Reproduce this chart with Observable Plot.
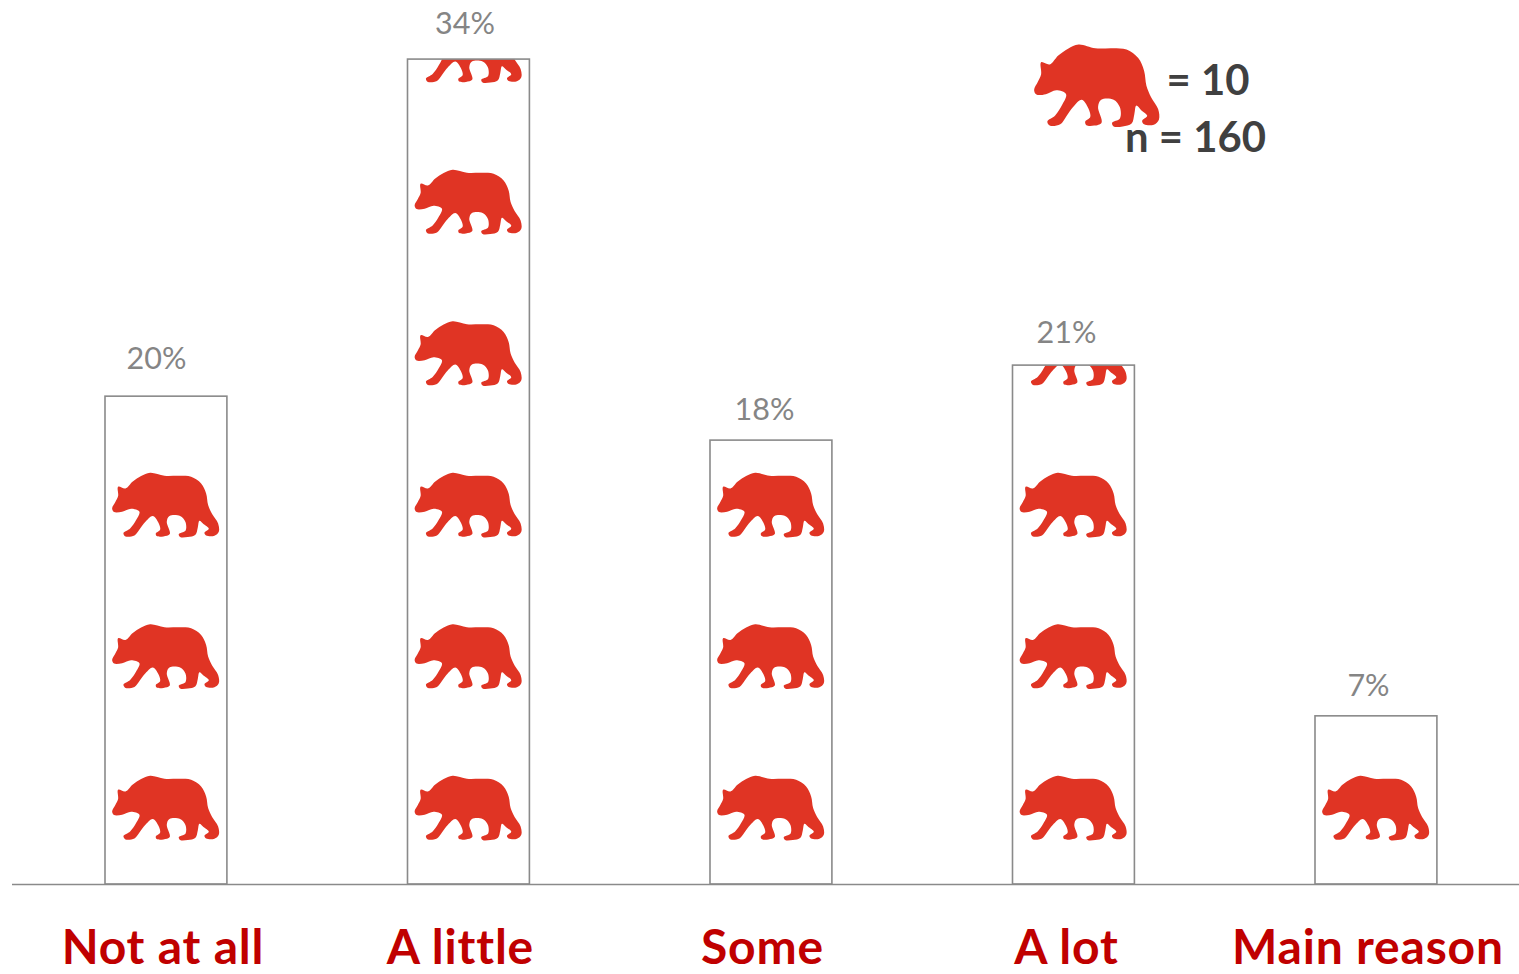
<!DOCTYPE html>
<html>
<head>
<meta charset="utf-8">
<style>html,body{margin:0;padding:0;background:#fff;}svg{display:block;}
g[aria-label="x-axis tick label"] text{letter-spacing:0.8px;}</style>
<script src="https://cdn.jsdelivr.net/npm/d3@7"></script>
<script src="https://cdn.jsdelivr.net/npm/@observablehq/plot@0.6"></script>
</head>
<body>
<div id="chart"></div>
<script>
const categories = ["Not at all", "A little", "Some", "A lot", "Main reason"];
const counts = [32.2, 54.45, 29.3, 34.25, 11.1];
const percents = ["20%", "34%", "18%", "21%", "7%"];
const tickDx = [-3.5, -8.5, -9, -7.5, -8.5];
const percentDx = [-10, -4, -7, -7.5, -8];
const percentDy = [-37, -35, -30, -32, -30];
const unit = 10;
const legendLines = ["= 10", "n = 160"];

const bearOutline = [[68,155],[78,135],[86,118],[86,90],[108,95],[130,74],[155,58],[182,48],[225,57],[270,57],[305,60],[335,80],[350,110],[356,145],[368,172],[386,200],[388,225],[375,237],[350,236],[345,228],[358,216],[342,202],[330,192],[325,212],[318,234],[295,241],[272,241],[268,232],[288,222],[288,196],[272,178],[240,178],[232,195],[241,232],[222,239],[202,238],[199,230],[212,219],[207,198],[190,178],[168,195],[150,218],[135,236],[108,239],[102,229],[122,215],[140,190],[150,165],[125,156],[98,165],[74,166]];
const bearSymbol = (stretchY) => ({
  draw(context, size) {
    const k = Math.sqrt(size / Math.PI) / 50 / 3;
    d3.line().curve(d3.curveCatmullRomClosed.alpha(0.5)).context(context)(
      bearOutline.map(([px, py]) => [(px - 228) * k, (py - 147) * k * stretchY])
    );
  }
});

const rows = categories.map((category, i) => ({category, count: counts[i], percent: percents[i]}));
const bears = rows.flatMap(({category, count}) =>
  d3.range(Math.ceil(count / unit)).map(k => ({category, mid: (k + 0.5) * unit})));

const gray = "#8a8a8a";
const red = "#e03424";

const plot = Plot.plot({
  width: 1519,
  height: 974,
  marginTop: 0, marginRight: 0, marginLeft: 12, marginBottom: 90,
  style: {background: "#fff"},
  x: {type: "band", domain: categories, range: [14.7, 1527.2], round: false, paddingInner: 0.597, paddingOuter: 0.2985, axis: null},
  y: {domain: [0, 60], range: [884, -25], axis: null},
  marks: [
    Plot.dot(bears, {x: "category", y: "mid", symbol: bearSymbol(1), r: 50, dx: -1, fill: red, stroke: "none"}),
    Plot.rectY(rows, {x: "category", y1: "count", y2: d => Math.ceil(d.count / unit) * unit, fill: "#fff", insetLeft: -3, insetRight: -3}),
    Plot.barY(rows, {x: "category", y: "count", fill: "none", stroke: gray, strokeWidth: 1.6}),
    Plot.ruleY([0], {stroke: gray, strokeWidth: 1.6}),
    ...rows.map((d, i) => Plot.text([d], {
      x: "category", y: "count", text: "percent", dx: percentDx[i], dy: percentDy[i],
      fill: "#858585", fontFamily: "Lato", fontSize: 30.5
    })),
    ...categories.map((c, i) => Plot.axisX({
      ticks: [c], tickSize: 0, tickPadding: 45.5, dx: tickDx[i], label: null,
      fill: "#c00000", color: "#c00000", fontFamily: "Lato", fontSize: 48, fontWeight: 700
    })),
    Plot.dot([0], {frameAnchor: "top-left", dx: 1084, dy: 86, symbol: bearSymbol(1.09), r: 58.5, fill: red, stroke: "none"}),
    Plot.text([legendLines[0]], {frameAnchor: "top-left", dx: 1195.5, dy: 81, lineAnchor: "middle", textAnchor: "middle", fill: "#404040", fontFamily: "Lato", fontWeight: 700, fontSize: 41.8}),
    Plot.text([legendLines[1]], {frameAnchor: "top-left", dx: 1183, dy: 138, lineAnchor: "middle", textAnchor: "middle", fill: "#404040", fontFamily: "Lato", fontWeight: 700, fontSize: 41.8})
  ]
});
document.getElementById("chart").append(plot);
</script>
</body>
</html>
